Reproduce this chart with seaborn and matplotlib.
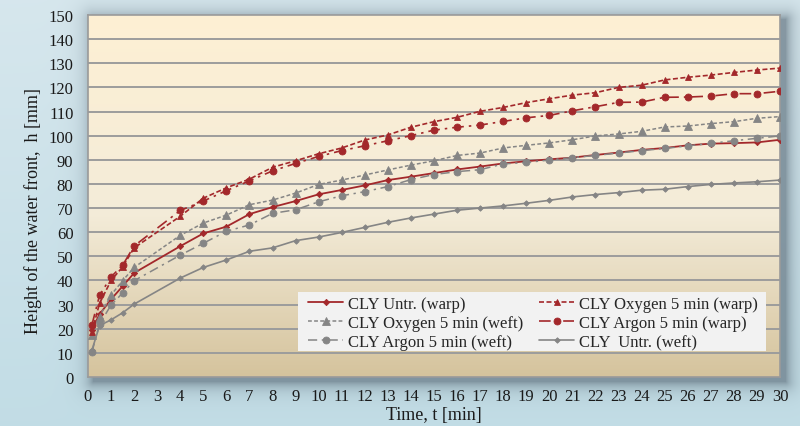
import numpy as np
import pandas as pd
import matplotlib
matplotlib.use("Agg")
import matplotlib.pyplot as plt
from matplotlib.patches import Rectangle
import seaborn as sns

# ---------------- data ----------------
time_min = [1/6, 0.5, 1, 1.5, 2, 4, 5, 6, 7, 8, 9, 10, 11, 12, 13, 14, 15, 16,
            17, 18, 19, 20, 21, 22, 23, 24, 25, 26, 27, 28, 29, 30]

untr_warp = [19.5, 26.0, 32.2, 37.6, 43.1, 54.2, 59.5, 62.3, 67.5, 70.4, 72.9, 75.7,
             77.5, 79.4, 81.6, 83.0, 84.5, 86.0, 87.2, 88.5, 89.4, 90.2, 90.9, 92.0,
             93.0, 94.1, 94.9, 96.0, 96.7, 96.9, 97.2, 98.3]
oxy_warp = [18.6, 30.5, 40.0, 45.6, 53.5, 66.6, 74.1, 78.4, 82.0, 86.9, 89.6, 92.5,
            94.9, 98.2, 100.3, 103.5, 105.8, 107.6, 110.1, 111.7, 113.7, 115.3, 116.8,
            117.8, 120.0, 120.9, 123.1, 124.2, 125.1, 126.2, 127.2, 128.0]
argon_warp = [21.5, 33.8, 41.5, 46.3, 54.3, 69.0, 72.9, 77.2, 81.3, 85.4, 88.5, 91.4,
              93.8, 95.8, 97.9, 100.0, 102.3, 103.5, 104.4, 105.9, 107.4, 108.4, 110.3,
              112.0, 113.8, 113.9, 115.9, 116.0, 116.4, 117.4, 117.4, 118.4]
oxy_weft = [17.4, 25.0, 34.0, 39.9, 45.4, 58.7, 63.8, 67.1, 71.4, 73.3, 76.2, 79.8,
            81.6, 83.7, 85.8, 87.8, 89.6, 91.8, 92.8, 94.9, 96.0, 97.0, 98.3, 99.9,
            100.7, 101.8, 103.6, 104.0, 105.0, 105.8, 107.2, 107.9]
argon_weft = [10.2, 22.0, 29.8, 34.8, 39.9, 50.5, 55.4, 60.4, 63.0, 67.8, 69.3, 72.6,
              75.1, 76.8, 78.9, 81.8, 83.9, 85.1, 85.9, 88.3, 88.9, 89.9, 90.9, 91.8,
              92.8, 93.8, 94.7, 95.8, 96.8, 97.9, 98.9, 99.9]
untr_weft = [11.0, 21.3, 23.7, 26.6, 30.2, 41.0, 45.4, 48.5, 52.1, 53.5, 56.5, 58.0,
             59.9, 62.0, 64.1, 65.9, 67.5, 69.1, 70.0, 70.9, 72.0, 73.2, 74.6, 75.6,
             76.4, 77.4, 77.8, 78.9, 79.8, 80.4, 80.9, 81.6]

series_labels = ["CLY Untr. (warp)", "CLY Oxygen 5 min (weft)", "CLY Argon 5 min (weft)",
                 "CLY Oxygen 5 min (warp)", "CLY Argon 5 min (warp)", "CLY  Untr. (weft)"]
series_values = [untr_warp, oxy_weft, argon_weft, oxy_warp, argon_warp, untr_weft]

x_ticks = list(range(0, 31))
y_ticks = list(range(0, 151, 10))

# ---------------- style ----------------
sns.set_theme(style="white")
plt.rcParams['font.family'] = ['Liberation Serif', 'DejaVu Serif']

RED = "#a3282b"
GREY = "#858585"
styles = {
    "CLY Untr. (warp)":        dict(color=RED, linestyle='-', marker='D', markersize=3.2, lw=1.3),
    "CLY Oxygen 5 min (weft)": dict(color=GREY, linestyle=(0, (2.5, 1.5)), marker='^', markersize=5.8, lw=1.1),
    "CLY Argon 5 min (weft)":  dict(color=GREY, linestyle=(0, (6, 3, 1.5, 3)), marker='o', markersize=5.0, lw=1.1),
    "CLY Oxygen 5 min (warp)": dict(color=RED, linestyle=(0, (3, 1.5)), marker='^', markersize=5.0, lw=1.2),
    "CLY Argon 5 min (warp)":  dict(color=RED, linestyle=(0, (7, 3, 1.5, 3)), marker='o', markersize=5.0, lw=1.2),
    "CLY  Untr. (weft)":       dict(color=GREY, linestyle='-', marker='D', markersize=2.8, lw=1.2),
}

W, H = 800, 427
L, R, T, B = 88, 780, 16, 378

fig = plt.figure(figsize=(W / 100, H / 100), dpi=100)

# figure background: gradient + soft shadow around plot area
yy, xx = np.mgrid[0:H, 0:W].astype(float)
top_c = np.array([0.84, 0.905, 0.93])
bot_c = np.array([0.76, 0.865, 0.90])
frac = (yy / (H - 1))[..., None]
bg = top_c * (1 - frac) + bot_c * frac
ox, oy = 5, 4
dx = np.maximum(np.maximum((L + ox) - xx, xx - (R + ox)), 0)
dy = np.maximum(np.maximum((T + oy) - yy, yy - (B + oy)), 0)
d = np.sqrt(dx ** 2 + dy ** 2)
sh = 0.65 * np.exp(-d / 8.0)
sh_c = np.array([0.36, 0.43, 0.48])
bg = bg * (1 - sh[..., None]) + sh_c * sh[..., None]
bg_ax = fig.add_axes([0, 0, 1, 1], zorder=-10)
bg_ax.imshow(bg, aspect='auto', extent=[0, 1, 0, 1], origin='upper')
bg_ax.axis('off')

ax = fig.add_axes([L / W, (H - B) / H, (R - L) / W, (B - T) / H])
ax.set_facecolor('none')

# plot-area gradient
g = np.linspace(0, 1, 256)[:, None]
c_top = np.array([0.995, 0.94, 0.83])
c_mid = np.array([0.955, 0.925, 0.85])
c_bot = np.array([0.835, 0.765, 0.615])
grad = np.where(g < 0.55,
                c_top * (1 - g / 0.55) + c_mid * (g / 0.55),
                c_mid * (1 - (g - 0.55) / 0.45) + c_bot * ((g - 0.55) / 0.45))
grad = grad[:, None, :].repeat(2, axis=1)
ax.imshow(grad, aspect='auto', extent=[0, 1, 0, 1], transform=ax.transAxes,
          origin='upper', zorder=0)

for yv in y_ticks[1:-1]:
    ax.axhline(yv, color='#9c9c9c', lw=1.4, zorder=1)

for lab, vals in zip(series_labels, series_values):
    st = styles[lab]
    sns.lineplot(x=time_min, y=vals, ax=ax, label=lab, color=st['color'],
                 linestyle=st['linestyle'], marker=st['marker'],
                 markersize=st['markersize'], linewidth=st['lw'],
                 markeredgecolor=st['color'], markeredgewidth=0.6, zorder=3)

ax.set_xlim(0, 30)
ax.set_ylim(0, 150)
ax.set_xticks(x_ticks)
ax.set_yticks(y_ticks)
ax.tick_params(axis='both', length=0, labelsize=12, colors='#1a1a1a')
ax.tick_params(axis='y', pad=10.5)
ax.tick_params(axis='x', pad=8)
for sp in ax.spines.values():
    sp.set_color('#9a9a9a')
    sp.set_linewidth(1.2)
    sp.set_visible(True)

ax.set_xlabel("Time, t [min]", fontsize=13, color='#1a1a1a')
ax.xaxis.set_label_coords(0.5, -0.079)
ax.xaxis.label.set_va('top')
ax.set_ylabel("Height of the water front,  h [mm]", fontsize=13, color='#1a1a1a')
ax.yaxis.set_label_coords(-0.066, 0.461)

# legend background box
ax.add_patch(Rectangle((210 / 692, (378 - 352) / 362), 468 / 692, 59 / 362,
                       transform=ax.transAxes, facecolor='#f2f2f2', edgecolor='none',
                       zorder=4))
leg = ax.legend(loc='lower left',
                bbox_to_anchor=(218 / 692, (378 - 353) / 362, 454 / 692, 57 / 362),
                mode='expand', ncol=2, frameon=False, fontsize=12,
                handlelength=2.1, handletextpad=0.3, borderaxespad=0,
                labelspacing=0.18, columnspacing=1.0, borderpad=0.12)
leg.set_zorder(5)

fig.savefig("out.png", dpi=100)
